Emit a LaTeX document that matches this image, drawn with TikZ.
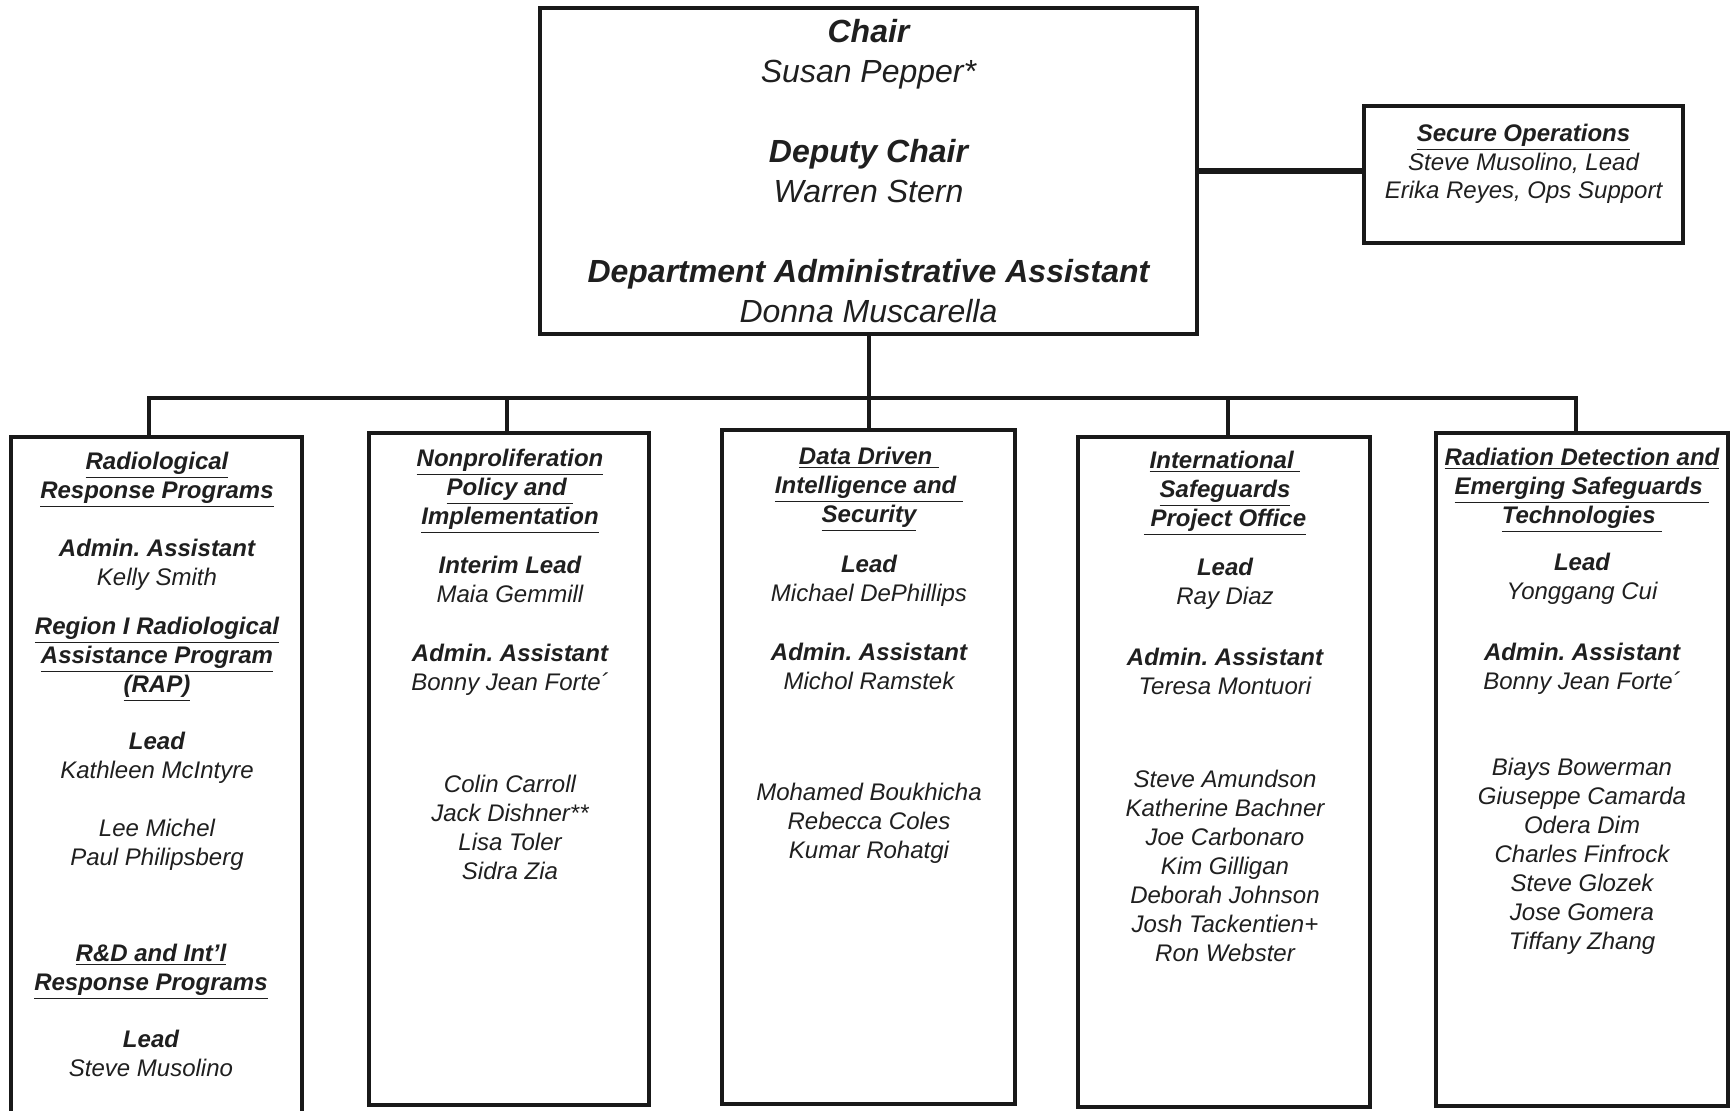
\documentclass[tikz,border=0pt]{standalone}
\usepackage{fontspec}
\setmainfont{Liberation Sans}
\usetikzlibrary{positioning}
\frenchspacing

\newcommand\hdl[1]{\textbf{\underline{#1}}}

\begin{document}
\begin{tikzpicture}[x=0.5pt,y=-0.5pt,
 box/.style={draw=black!90,line width=2.2pt,inner sep=0pt},
 txt/.style={align=center,inner sep=0pt,anchor=north,text=black!88,font=\fontsize{12}{14.5}\selectfont\itshape},
 bigtxt/.style={align=center,inner sep=0pt,anchor=north,text=black!88,font=\fontsize{16}{20}\selectfont\itshape},
 link/.style={draw=black!90,line width=2pt}]
\useasboundingbox (0,0) rectangle (1735,1110);
% boxes
\node[box,minimum width=328.5pt,minimum height=163pt] (chair) at (868.5,171) {};
\node[box,minimum width=159.5pt,minimum height=68.5pt] (secops) at (1523.5,174.5) {};
\node[box,minimum width=145.5pt,minimum height=344pt] (rrp) at (156.5,781) {};
\node[box,minimum width=140pt,minimum height=336pt] (npi) at (509,769) {};
\node[box,minimum width=146.5pt,minimum height=337pt] (ddis) at (868.5,767) {};
\node[box,minimum width=146pt,minimum height=335pt] (ispo) at (1224,772) {};
\node[box,minimum width=146pt,minimum height=336.5pt] (rdes) at (1582,769.5) {};
\coordinate (bus) at (868.5,398);
% texts
\node[bigtxt] (chairtxt) at (868.5,19) {\textbf{Chair}\\Susan Pepper*\\[20pt]\textbf{Deputy Chair}\\Warren Stern\\[20pt]\textbf{Department Administrative Assistant}\\Donna Muscarella};
\node[txt,font=\fontsize{12}{14.25}\selectfont\itshape] (secopstxt) at (1523.5,124) {\hdl{Secure Operations}\\Steve Musolino, Lead\\Erika Reyes, Ops Support};
\node[txt] (rrptxt) at (157,452) {\hdl{Radiological}\\\hdl{Response Programs}\\[14.5pt]\textbf{Admin. Assistant}\\Kelly Smith\\[10pt]\hdl{Region I Radiological}\\\hdl{Assistance Program}\\\hdl{(RAP)}\\[14pt]\textbf{Lead}\\Kathleen McIntyre\\[14.5pt]Lee Michel\\Paul Philipsberg};
\node[txt] (rdtxt) at (151,944) {\hdl{R\&D and Int’l}\\\hdl{Response Programs}\\[14pt]\textbf{Lead}\\Steve Musolino};
\node[txt] (npitxt) at (510,449) {\hdl{Nonproliferation}\\\hdl{Policy and\ }\\\hdl{Implementation}\\[10pt]\textbf{Interim Lead}\\Maia Gemmill\\[15pt]\textbf{Admin. Assistant}\\Bonny Jean Forte´\\[36.5pt]Colin Carroll\\Jack Dishner**\\Lisa Toler\\Sidra Zia};
\node[txt] (ddistxt) at (869,447) {\hdl{Data Driven\ }\\\hdl{Intelligence and\ }\\\hdl{Security}\\[10.5pt]\textbf{Lead}\\Michael DePhillips\\[15pt]\textbf{Admin. Assistant}\\Michol Ramstek\\[41pt]Mohamed Boukhicha\\Rebecca Coles\\Kumar Rohatgi};
\node[txt] (ispotxt) at (1225,451) {\hdl{International\ }\\\hdl{Safeguards}\\\hdl{\ Project Office}\\[10pt]\textbf{Lead}\\Ray Diaz\\[16pt]\textbf{Admin. Assistant}\\Teresa Montuori\\[32pt]Steve Amundson\\Katherine Bachner\\Joe Carbonaro\\Kim Gilligan\\Deborah Johnson\\Josh Tackentien+\\Ron Webster};
\node[txt] (rdestxt) at (1582,448) {\hdl{Radiation Detection and}\\\hdl{Emerging Safeguards\ }\\\hdl{Technologies\ }\\[9pt]\textbf{Lead}\\Yonggang Cui\\[16pt]\textbf{Admin. Assistant}\\Bonny Jean Forte´\\[28.5pt]Biays Bowerman\\Giuseppe Camarda\\Odera Dim\\Charles Finfrock\\Steve Glozek\\Jose Gomera\\Tiffany Zhang};
% connectors
\draw[link,line width=3pt] (chair.east) -- (chair.east -| secops.west);
\draw[link] (chair.south) -- (bus);
\draw[link] ([xshift=-3.75pt]rrp.north) |- (bus) -| ([xshift=-3pt]rdes.north);
\draw[link] (bus) -| ([xshift=-1pt]npi.north);
\draw[link] (bus) -- (ddis.north);
\draw[link] (bus) -| ([xshift=2pt]ispo.north);
\end{tikzpicture}
\end{document}
